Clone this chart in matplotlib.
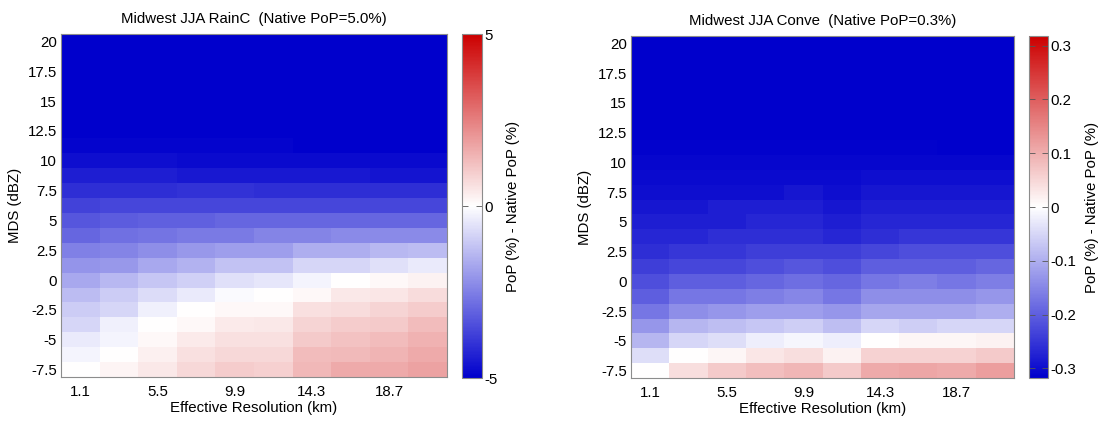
import numpy as np
import matplotlib
matplotlib.use("Agg")
import matplotlib.pyplot as plt
from matplotlib.colors import LinearSegmentedColormap

plt.rcParams['font.family'] = ['Liberation Sans', 'DejaVu Sans']

# ---------------- data ----------------
resolution = [1.1, 3.3, 5.5, 7.7, 9.9, 12.1, 14.3, 16.5, 18.7, 20.9]
mds = [-7.5, -6.25, -5, -3.75, -2.5, -1.25, 0, 1.25, 2.5, 3.75, 5, 6.25, 7.5,
       8.75, 10, 11.25, 12.5, 13.75, 15, 16.25, 17.5, 18.75, 20]
xtick_vals = [1.1, 5.5, 9.9, 14.3, 18.7]
ytick_vals = [-7.5, -5, -2.5, 0, 2.5, 5, 7.5, 10, 12.5, 15, 17.5, 20]
ytick_labels = ['-7.5', '-5', '-2.5', '0', '2.5', '5', '7.5', '10', '12.5', '15', '17.5', '20']

# rows = MDS (bottom to top), columns = resolution
rainc = [
    [0.0, 0.2, 0.45, 0.75, 1.0, 0.9, 1.4, 1.65, 1.65, 1.8],
    [-0.2, 0.0, 0.3, 0.6, 0.75, 0.75, 1.3, 1.35, 1.45, 1.65],
    [-0.4, -0.2, 0.15, 0.4, 0.6, 0.6, 1.05, 1.2, 1.3, 1.5],
    [-0.8, -0.3, 0.0, 0.15, 0.4, 0.45, 0.85, 1.0, 1.05, 1.3],
    [-1.0, -0.8, -0.3, 0.0, 0.15, 0.15, 0.6, 0.7, 0.85, 1.0],
    [-1.3, -1.0, -0.7, -0.4, -0.1, 0.0, 0.15, 0.45, 0.5, 0.7],
    [-1.7, -1.4, -1.1, -0.9, -0.6, -0.5, -0.2, 0.0, 0.15, 0.25],
    [-2.1, -2.0, -1.7, -1.5, -1.2, -1.2, -0.8, -0.8, -0.6, -0.4],
    [-2.5, -2.4, -2.2, -2.0, -1.9, -1.9, -1.6, -1.6, -1.4, -1.3],
    [-3.0, -2.8, -2.7, -2.6, -2.6, -2.4, -2.4, -2.3, -2.3, -2.3],
    [-3.3, -3.2, -3.1, -3.1, -3.0, -3.0, -3.0, -3.0, -3.0, -3.0],
    [-3.7, -3.6, -3.6, -3.6, -3.6, -3.6, -3.6, -3.6, -3.6, -3.6],
    [-4.1, -4.1, -4.1, -4.0, -4.0, -4.1, -4.1, -4.1, -4.1, -4.1],
    [-4.4, -4.4, -4.4, -4.5, -4.5, -4.5, -4.5, -4.5, -4.6, -4.6],
    [-4.7, -4.7, -4.7, -4.8, -4.8, -4.8, -4.8, -4.8, -4.8, -4.8],
    [-4.9, -4.9, -4.9, -4.9, -4.9, -4.9, -5.0, -5.0, -5.0, -5.0],
    [-5.0] * 10, [-5.0] * 10, [-5.0] * 10, [-5.0] * 10,
    [-5.0] * 10, [-5.0] * 10, [-5.0] * 10,
]

conve = [
    [0.0, 0.04, 0.065, 0.08, 0.09, 0.065, 0.105, 0.11, 0.105, 0.12],
    [-0.04, 0.0, 0.01, 0.03, 0.04, 0.015, 0.055, 0.055, 0.055, 0.065],
    [-0.09, -0.05, -0.04, -0.02, -0.01, -0.02, 0.0, 0.01, 0.01, 0.015],
    [-0.13, -0.09, -0.08, -0.07, -0.06, -0.08, -0.05, -0.06, -0.05, -0.05],
    [-0.17, -0.14, -0.13, -0.12, -0.12, -0.13, -0.11, -0.11, -0.11, -0.10],
    [-0.20, -0.17, -0.17, -0.16, -0.15, -0.17, -0.14, -0.14, -0.14, -0.13],
    [-0.22, -0.20, -0.20, -0.19, -0.18, -0.19, -0.17, -0.16, -0.17, -0.16],
    [-0.24, -0.23, -0.23, -0.22, -0.21, -0.22, -0.20, -0.20, -0.20, -0.19],
    [-0.26, -0.25, -0.25, -0.24, -0.24, -0.24, -0.23, -0.22, -0.22, -0.22],
    [-0.27, -0.27, -0.26, -0.26, -0.26, -0.27, -0.26, -0.25, -0.25, -0.25],
    [-0.28, -0.28, -0.28, -0.27, -0.27, -0.28, -0.27, -0.27, -0.27, -0.27],
    [-0.29, -0.29, -0.28, -0.28, -0.28, -0.29, -0.28, -0.28, -0.28, -0.28],
    [-0.30, -0.30, -0.30, -0.30, -0.29, -0.30, -0.29, -0.29, -0.29, -0.29],
    [-0.305, -0.305, -0.305, -0.305, -0.305, -0.305, -0.30, -0.30, -0.30, -0.30],
    [-0.31, -0.31, -0.31, -0.31, -0.31, -0.31, -0.31, -0.31, -0.31, -0.31],
    [-0.315, -0.315, -0.315, -0.315, -0.315, -0.315, -0.315, -0.315, -0.318, -0.318],
    [-0.318] * 10, [-0.318] * 10, [-0.318] * 10, [-0.318] * 10,
    [-0.318] * 10, [-0.318] * 10, [-0.318] * 10,
]

titles = ['Midwest JJA RainC  (Native PoP=5.0%)', 'Midwest JJA Conve  (Native PoP=0.3%)']
limits = [5.0, 0.318]
cbar_ticks = [[-5, 0, 5], [-0.3, -0.2, -0.1, 0, 0.1, 0.2, 0.3]]
cbar_ticklabels = [['-5', '0', '5'], ['-0.3', '-0.2', '-0.1', '0', '0.1', '0.2', '0.3']]

# ---------------- figure ----------------
W, H = 1099, 422
fig = plt.figure(figsize=(W / 100, H / 100), dpi=100)

cmap = LinearSegmentedColormap.from_list('bwr_m', [(0, 0, 0.8), (1, 1, 1), (0.8, 0, 0)], N=256)
edge = '#8c8c8c'


def px(l, t, r, b):
    return [l / W, 1 - b / H, (r - l) / W, (b - t) / H]


panels = [
    (px(61, 34, 447, 377), px(462, 34, 482, 378), rainc),
    (px(631, 36, 1014, 378), px(1029, 36, 1048, 378), conve),
]

for i, (apos, cpos, data) in enumerate(panels):
    ax = fig.add_axes(apos)
    lim = limits[i]
    mesh = ax.pcolormesh(resolution, mds, np.array(data), cmap=cmap, vmin=-lim, vmax=lim,
                         shading='nearest')
    ax.set_xlim(0, 22)
    ax.set_ylim(-8.125, 20.625)
    ax.set_xticks(xtick_vals)
    ax.set_xticklabels([f'{v:.1f}' for v in xtick_vals])
    ax.set_yticks(ytick_vals)
    ax.set_yticklabels(ytick_labels)
    ax.tick_params(length=0, labelsize=10.8, pad=3, colors='black')
    ax.tick_params(axis='x', pad=6)
    for s in ax.spines.values():
        s.set_color(edge)
        s.set_linewidth(0.8)
    ax.set_title(titles[i], fontsize=10.8, pad=8)
    ax.set_xlabel('Effective Resolution (km)', fontsize=10.8, labelpad=1)
    ax.set_ylabel('MDS (dBZ)', fontsize=10.8, labelpad=4)

    cax = fig.add_axes(cpos)
    cb = fig.colorbar(mesh, cax=cax)
    cb.set_ticks(cbar_ticks[i])
    cb.set_ticklabels(cbar_ticklabels[i])
    cb.outline.set_edgecolor(edge)
    cb.outline.set_linewidth(0.8)
    cax.tick_params(direction='in', length=4, width=0.6, color='#555555', labelsize=10.8,
                    pad=2, left=True, right=True)
    cb.set_label('PoP (%) - Native PoP (%)', fontsize=10.8, labelpad=6)

fig.savefig('out.png', dpi=100)
